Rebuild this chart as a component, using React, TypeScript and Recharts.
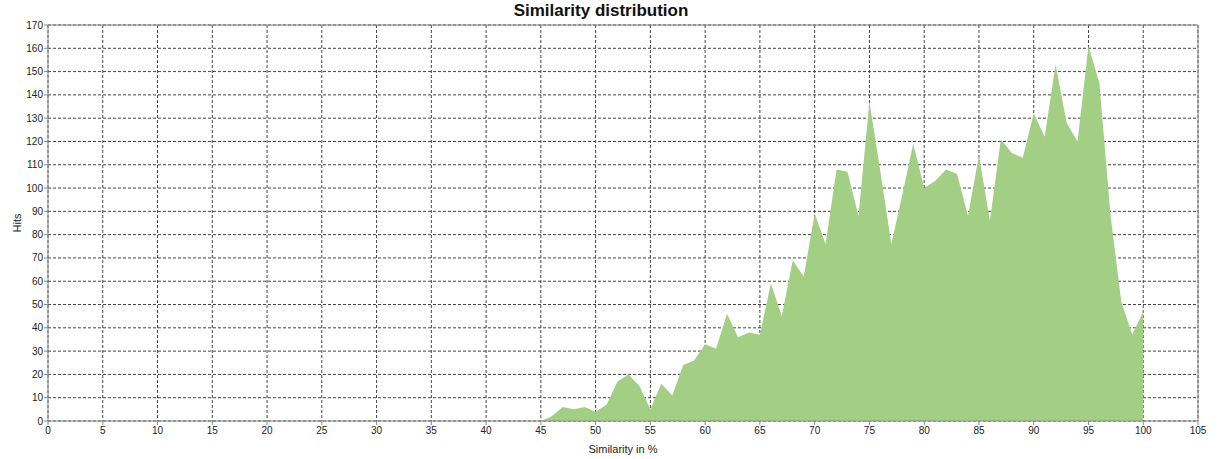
import React from "react";
import {
  AreaChart,
  Area,
  XAxis,
  YAxis,
  CartesianGrid,
  ReferenceLine,
} from "recharts";

// similarity bucket (%) and number of hits in it
const similarity = [
  45, 46, 47, 48, 49, 50, 51, 52, 53, 54, 55, 56, 57, 58, 59, 60, 61, 62, 63, 64,
  65, 66, 67, 68, 69, 70, 71, 72, 73, 74, 75, 76, 77, 78, 79, 80, 81, 82, 83, 84,
  85, 86, 87, 88, 89, 90, 91, 92, 93, 94, 95, 96, 97, 98, 99, 100,
];
const hits = [
  0, 2, 6, 5, 6, 4, 7, 17, 20, 15, 5, 16, 11, 24, 26, 33, 31, 46, 36, 38,
  37, 59, 45, 69, 62, 89, 76, 108, 107, 88, 137, 107, 76, 97, 119, 100, 103, 108, 106, 88,
  114, 86, 121, 115, 113, 132, 122, 153, 128, 120, 161, 145, 89, 51, 37, 47,
];

const xTicks = [0, 5, 10, 15, 20, 25, 30, 35, 40, 45, 50, 55, 60, 65, 70, 75, 80, 85, 90, 95, 100, 105];
const yTicks = [0, 10, 20, 30, 40, 50, 60, 70, 80, 90, 100, 110, 120, 130, 140, 150, 160, 170];

const data = similarity.map((s, i) => ({ similarity: s, hits: hits[i] }));

const FONT = "'Liberation Sans', Arial, sans-serif";
const tickStyle = { fontSize: 10, fill: "#222", fontFamily: FONT };

export default function App() {
  return (
    <div style={{ position: "absolute", left: 0, top: 0, width: 1220, height: 459, background: "#fff" }}>
      <div
        style={{
          position: "absolute",
          left: 0,
          top: 2,
          width: 1202,
          textAlign: "center",
          fontFamily: FONT,
          fontWeight: "bold",
          fontSize: 17,
          lineHeight: "18px",
          color: "#111",
        }}
      >
        Similarity distribution
      </div>
      <AreaChart
        width={1220}
        height={459}
        data={data}
        margin={{ top: 25, right: 22, bottom: 0, left: 8 }}
      >
        <XAxis
          dataKey="similarity"
          type="number"
          domain={[0, 105]}
          ticks={xTicks}
          interval={0}
          allowDataOverflow
          stroke="#888"
          tickSize={4}
          tickMargin={2}
          height={38}
          tick={tickStyle}
          label={{
            value: "Similarity in %",
            position: "insideBottom",
            offset: 6,
            style: { fontSize: 11, fill: "#222", fontFamily: FONT },
          }}
        />
        <YAxis
          type="number"
          domain={[0, 170]}
          ticks={yTicks}
          interval={0}
          stroke="#888"
          tickSize={4}
          tickMargin={1}
          width={40}
          tick={tickStyle}
          label={{
            value: "Hits",
            angle: -90,
            position: "insideLeft",
            offset: 9,
            style: { fontSize: 11, fill: "#222", fontFamily: FONT, textAnchor: "middle" },
          }}
        />
        <Area
          type="linear"
          dataKey="hits"
          stroke="none"
          fill="#a2cf84"
          fillOpacity={1}
          isAnimationActive={false}
        />
        <CartesianGrid stroke="#444" strokeDasharray="3 2" />
        <ReferenceLine y={170} stroke="#888" />
        <ReferenceLine x={105} stroke="#888" />
      </AreaChart>
    </div>
  );
}
